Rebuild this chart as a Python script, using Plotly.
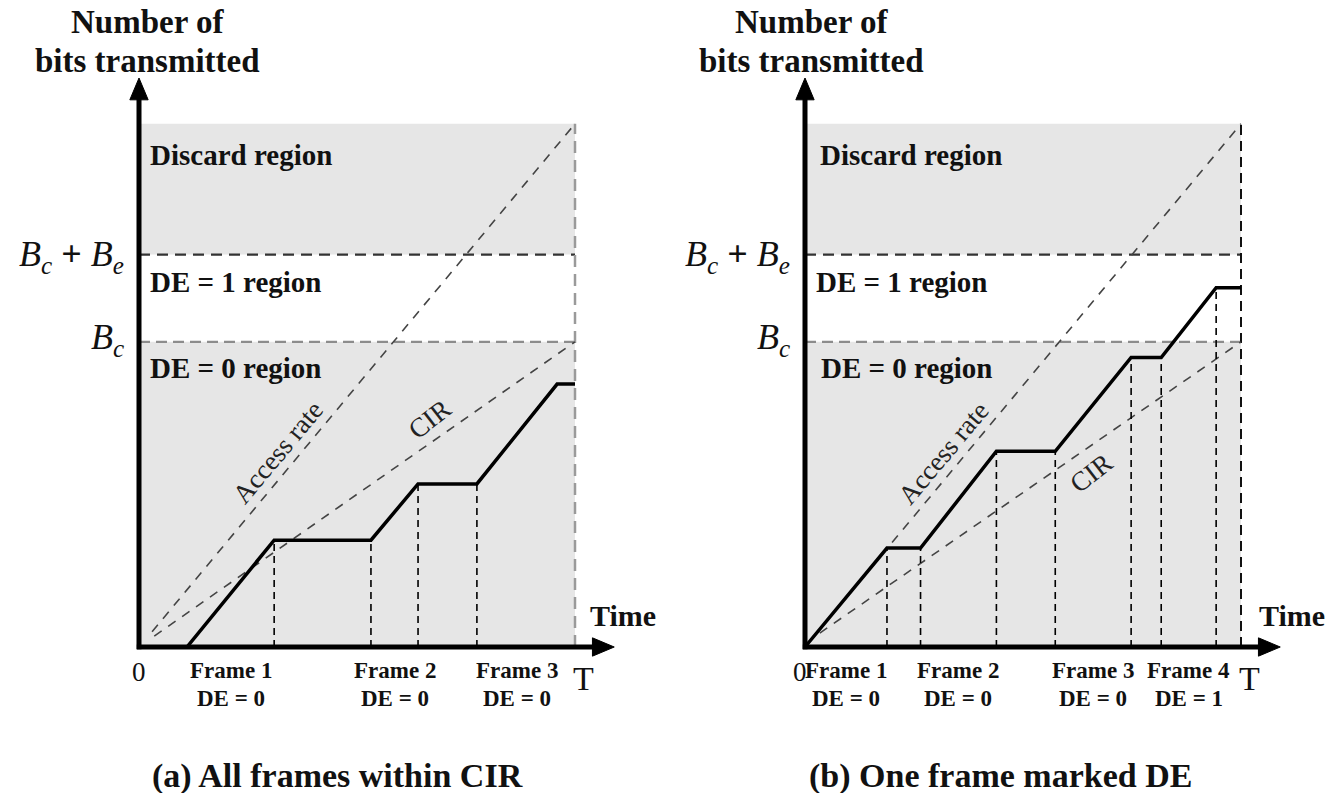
import numpy as np
import plotly.graph_objects as go

# ---------------- data (diagram units: time 0..T, bits 0..TOP) ----------------
T_END = 10.0
BC = 7.0          # committed burst B_c
BC_BE = 9.0       # B_c + B_e
TOP = 12.0        # top of discard region

# Panel (a): all frames within CIR
A_time = [0, 1.1, 3.1, 5.32, 6.4, 7.75, 9.59, 10]
A_bits = [0, 0, 2.45, 2.45, 3.74, 3.74, 6.03, 6.03]
A_edges = [3.1, 5.32, 6.4, 7.75]
A_ramps = [(1.1, 3.1), (5.32, 6.4), (7.75, 9.59)]
A_frames = ["Frame 1", "Frame 2", "Frame 3"]
A_de = ["DE = 0", "DE = 0", "DE = 0"]
A_access = ([0.3, 10], [0.35, 12])
A_cir = ([0.35, 10], [0.25, 7])

# Panel (b): one frame marked DE
B_time = [0, 1.88, 2.65, 4.39, 5.74, 7.48, 8.17, 9.43, 10]
B_bits = [0, 2.27, 2.27, 4.49, 4.49, 6.64, 6.64, 8.24, 8.24]
B_edges = [1.88, 2.65, 4.39, 5.74, 7.48, 8.17, 9.43]
B_ramps = [(0, 1.88), (2.65, 4.39), (5.74, 7.48), (8.17, 9.43)]
B_frames = ["Frame 1", "Frame 2", "Frame 3", "Frame 4"]
B_de = ["DE = 0", "DE = 0", "DE = 0", "DE = 1"]
B_access = ([0, 10], [0, 12])
B_cir = ([0.34, 10], [0.32, 7])

region_labels = ["Discard region", "DE = 1 region", "DE = 0 region"]
captions = ["(a) All frames within CIR", "(b) One frame marked DE"]

# ---------------- layout constants ----------------
W, H = 1329, 793
SERIF = "Liberation Serif, Times New Roman, serif"
PX_PER_UNIT = 43.6
ORIGIN_Y_PX = 647
Y_TIP = 13.05      # y-axis arrow tip (diagram units)
X_TIP = 10.9       # x-axis arrow tip
HEAD_LEN = 0.5
HEAD_HALF = 0.21
AX_W = 5

panels = [
    dict(xs="x", ys="y", dom=[0, 0.5], ox=139, t=A_time, b=A_bits, edges=A_edges,
         ramps=A_ramps, frames=A_frames, de=A_de, acc=A_access, cir=A_cir,
         tcol="#9a9a9a", tdash="12px,7px", twidth=2.5,
         acc_lab=(3.19, 4.47), cir_lab=(6.67, 5.23), cap_x=337, title_x=147,
         reg_x=[0.2, 0.2, 0.2], time_x=11.1, zero_x=0.0),
    dict(xs="x2", ys="y2", dom=[0.5, 1], ox=805, t=B_time, b=B_bits, edges=B_edges,
         ramps=B_ramps, frames=B_frames, de=B_de, acc=B_access, cir=B_cir,
         tcol="#111111", tdash="10px,6px", twidth=2,
         acc_lab=(3.18, 4.44), cir_lab=(6.57, 3.98), cap_x=1000, title_x=811,
         reg_x=[0.3, 0.2, 0.33], time_x=11.18, zero_x=-0.12),
]

fig = go.Figure()
shapes, annots = [], []
layout_axes = {}

for i, p in enumerate(panels):
    xs, ys = p["xs"], p["ys"]
    d0, d1 = p["dom"][0] * W, p["dom"][1] * W
    xr = [(d0 - p["ox"]) / PX_PER_UNIT, (d1 - p["ox"]) / PX_PER_UNIT]
    yr = [-(H - ORIGIN_Y_PX) / PX_PER_UNIT, ORIGIN_Y_PX / PX_PER_UNIT]
    xk = "xaxis" if i == 0 else "xaxis2"
    yk = "yaxis" if i == 0 else "yaxis2"
    layout_axes[xk] = dict(domain=p["dom"], range=xr, visible=False, fixedrange=True,
                           anchor=ys)
    layout_axes[yk] = dict(domain=[0, 1], range=yr, visible=False, fixedrange=True,
                           anchor=xs)

    # shaded regions
    for (y0, y1) in [(0, BC), (BC_BE, TOP)]:
        shapes.append(dict(type="rect", xref=xs, yref=ys, x0=0, x1=T_END, y0=y0, y1=y1,
                           fillcolor="#e6e6e6", line=dict(width=0), layer="below"))
    # threshold lines
    fig.add_trace(go.Scatter(x=[0, T_END], y=[BC_BE, BC_BE], xaxis=xs, yaxis=ys, mode="lines",
                             line=dict(color="#333333", width=2.2, dash="11px,7px"), hoverinfo="skip"))
    fig.add_trace(go.Scatter(x=[0, T_END], y=[BC, BC], xaxis=xs, yaxis=ys, mode="lines",
                             line=dict(color="#8c8c8c", width=2.2, dash="11px,6px"), hoverinfo="skip"))
    # T vertical
    fig.add_trace(go.Scatter(x=[T_END, T_END], y=[0, TOP], xaxis=xs, yaxis=ys, mode="lines",
                             line=dict(color=p["tcol"], width=p["twidth"], dash=p["tdash"]),
                             hoverinfo="skip"))
    # access rate and CIR
    for ln in (p["acc"], p["cir"]):
        fig.add_trace(go.Scatter(x=ln[0], y=ln[1], xaxis=xs, yaxis=ys, mode="lines",
                                 line=dict(color="#444444", width=1.6, dash="9px,8px"),
                                 hoverinfo="skip"))
    # frame boundary verticals
    for e in p["edges"]:
        yv = float(np.interp(e, p["t"], p["b"]))
        fig.add_trace(go.Scatter(x=[e, e], y=[0, yv], xaxis=xs, yaxis=ys, mode="lines",
                                 line=dict(color="#000000", width=1.6, dash="7px,5px"),
                                 hoverinfo="skip"))
    # transmitted bits
    fig.add_trace(go.Scatter(x=p["t"], y=p["b"], xaxis=xs, yaxis=ys, mode="lines",
                             line=dict(color="#000000", width=3.5), hoverinfo="skip"))

    # axes with arrowheads
    off = 0.05
    shapes.append(dict(type="line", xref=xs, yref=ys, x0=0, y0=-off, x1=0,
                       y1=Y_TIP - HEAD_LEN + 0.05, line=dict(color="#000", width=AX_W)))
    shapes.append(dict(type="line", xref=xs, yref=ys, x0=-off, y0=0,
                       x1=X_TIP - HEAD_LEN + 0.05, y1=0, line=dict(color="#000", width=AX_W)))
    yb = Y_TIP - HEAD_LEN
    shapes.append(dict(type="path", xref=xs, yref=ys,
                       path=f"M {-HEAD_HALF},{yb} L {HEAD_HALF},{yb} L 0,{Y_TIP} Z",
                       fillcolor="#000", line=dict(color="#000", width=1)))
    xb = X_TIP - HEAD_LEN
    shapes.append(dict(type="path", xref=xs, yref=ys,
                       path=f"M {xb},{-HEAD_HALF} L {xb},{HEAD_HALF} L {X_TIP},0 Z",
                       fillcolor="#000", line=dict(color="#000", width=1)))

    # region labels
    for lab, yl, xl in zip(region_labels, [11.28, 8.37, 6.4], p["reg_x"]):
        annots.append(dict(xref=xs, yref=ys, x=xl, y=yl, text="<b>" + lab + "</b>",
                           showarrow=False, xanchor="left", yanchor="middle",
                           font=dict(family=SERIF, size=29, color="#111")))
    # B labels
    annots.append(dict(xref=xs, yref=ys, x=-0.3, y=BC_BE - 0.05, showarrow=False,
                       xanchor="right", yanchor="middle",
                       text="<i>B</i><sub><i>c</i></sub><b> + </b><i>B</i><sub><i>e</i></sub>",
                       font=dict(family=SERIF, size=36, color="#111")))
    annots.append(dict(xref=xs, yref=ys, x=-0.3, y=BC + 0.05, showarrow=False,
                       xanchor="right", yanchor="middle",
                       text="<i>B</i><sub><i>c</i></sub>",
                       font=dict(family=SERIF, size=36, color="#111")))
    # rotated line labels
    annots.append(dict(xref=xs, yref=ys, x=p["acc_lab"][0], y=p["acc_lab"][1], text="Access rate",
                       showarrow=False, textangle=-50, xanchor="center", yanchor="middle",
                       font=dict(family=SERIF, size=27, color="#222")))
    annots.append(dict(xref=xs, yref=ys, x=p["cir_lab"][0], y=p["cir_lab"][1], text="CIR",
                       showarrow=False, textangle=-38, xanchor="center", yanchor="middle",
                       font=dict(family=SERIF, size=27, color="#222")))
    # frame labels
    for (r0, r1), fl, dl in zip(p["ramps"], p["frames"], p["de"]):
        xc = (r0 + r1) / 2
        annots.append(dict(xref=xs, yref=ys, x=xc, y=-0.53, text="<b>" + fl + "</b>",
                           showarrow=False, xanchor="center", yanchor="middle",
                           font=dict(family=SERIF, size=23, color="#111")))
        annots.append(dict(xref=xs, yref=ys, x=xc, y=-1.17, text="<b>" + dl + "</b>",
                           showarrow=False, xanchor="center", yanchor="middle",
                           font=dict(family=SERIF, size=23, color="#111")))
    # 0, T, Time
    annots.append(dict(xref=xs, yref=ys, x=p["zero_x"], y=-0.58, text="0", showarrow=False,
                       xanchor="center", yanchor="middle",
                       font=dict(family=SERIF, size=27, color="#111")))
    annots.append(dict(xref=xs, yref=ys, x=10.2, y=-0.72, text="T", showarrow=False,
                       xanchor="center", yanchor="middle",
                       font=dict(family=SERIF, size=34, color="#111")))
    annots.append(dict(xref=xs, yref=ys, x=p["time_x"], y=0.72, text="<b>Time</b>",
                       showarrow=False, xanchor="center", yanchor="middle",
                       font=dict(family=SERIF, size=30, color="#111")))
    # title
    annots.append(dict(xref="paper", yref="paper", x=p["title_x"] / W, y=1 - 22 / H,
                       text="<b>Number of</b>", showarrow=False,
                       xanchor="center", yanchor="middle",
                       font=dict(family=SERIF, size=33, color="#111")))
    annots.append(dict(xref="paper", yref="paper", x=p["title_x"] / W, y=1 - 61 / H,
                       text="<b>bits transmitted</b>", showarrow=False,
                       xanchor="center", yanchor="middle",
                       font=dict(family=SERIF, size=33, color="#111")))
    # caption
    annots.append(dict(xref="paper", yref="paper", x=p["cap_x"] / W, y=1 - 776 / H,
                       text="<b>" + captions[i] + "</b>", showarrow=False,
                       xanchor="center", yanchor="middle",
                       font=dict(family=SERIF, size=34, color="#111")))

fig.update_layout(width=W, height=H, margin=dict(l=0, r=0, t=0, b=0),
                  paper_bgcolor="white", plot_bgcolor="white", showlegend=False,
                  shapes=shapes, annotations=annots, **layout_axes)
fig.write_html("out.html", config={"displayModeBar": False},
               post_script="document.body.style.margin='0';document.body.style.padding='0';")
